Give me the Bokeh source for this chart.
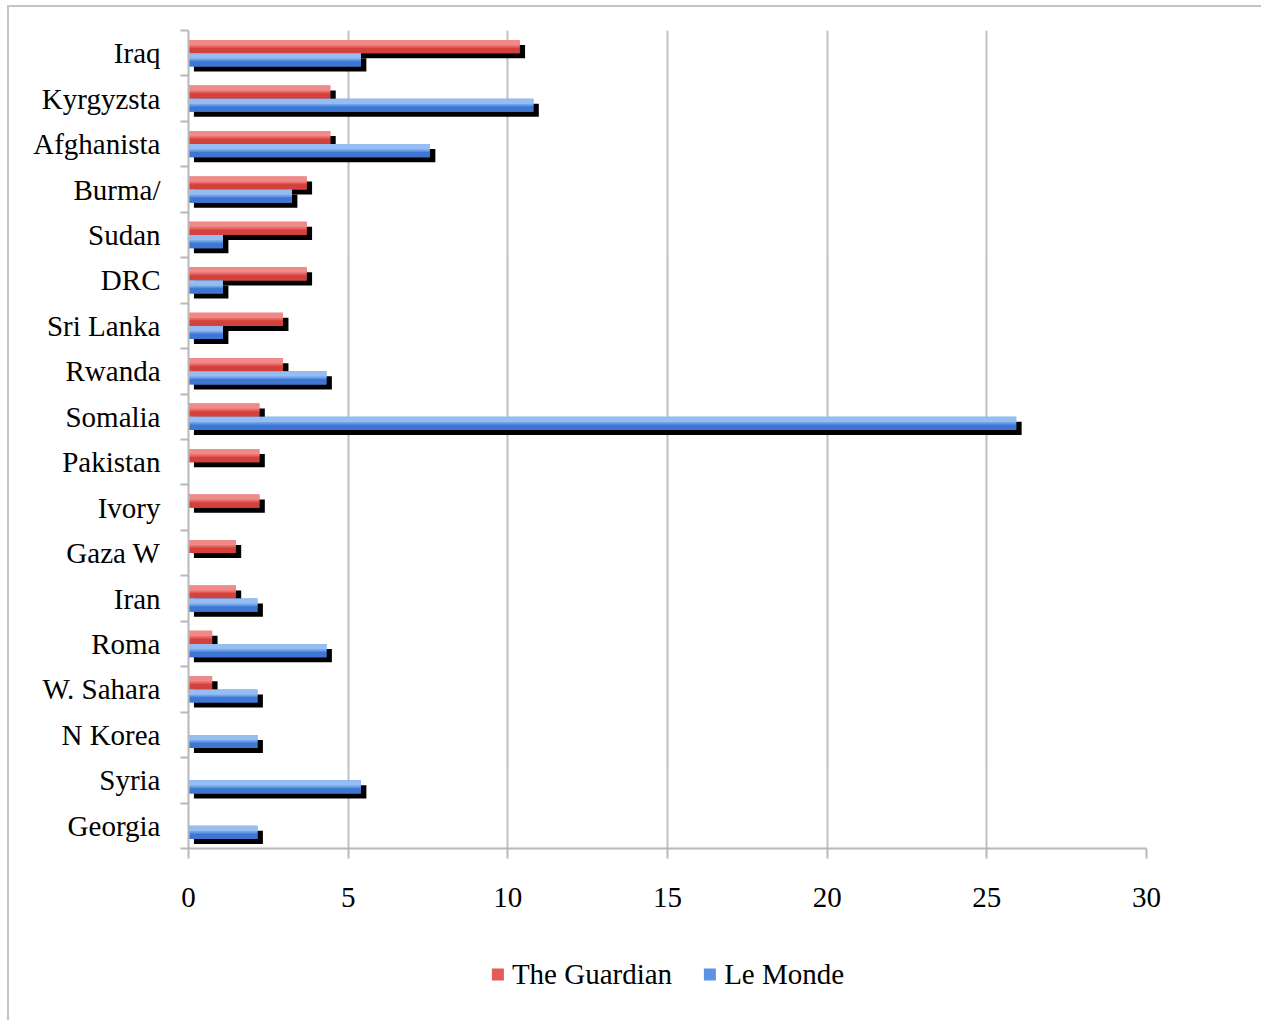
from bokeh.plotting import figure
from bokeh.layouts import column
from bokeh.models import (ColumnDataSource, FixedTicker, Legend, LegendItem, Range1d)
from bokeh.embed import file_html
from bokeh.resources import INLINE

categories = ["Iraq", "Kyrgyzsta", "Afghanista", "Burma/", "Sudan", "DRC", "Sri Lanka",
              "Rwanda", "Somalia", "Pakistan", "Ivory", "Gaza W", "Iran", "Roma",
              "W. Sahara", "N Korea", "Syria", "Georgia"]
guardian = [10.37, 4.44, 4.44, 3.70, 3.70, 3.70, 2.96, 2.96, 2.22, 2.22, 2.22, 1.48,
            1.48, 0.74, 0.74, 0.0, 0.0, 0.0]
lemonde = [5.40, 10.80, 7.56, 3.24, 1.08, 1.08, 1.08, 4.32, 25.92, 0.0, 0.0, 0.0,
           2.16, 4.32, 2.16, 2.16, 5.40, 2.16]
series_names = ["The Guardian", "Le Monde"]
x_ticks = [0, 5, 10, 15, 20, 25, 30]

FONT = "Liberation Serif"
n = len(categories)
centers = [n - 0.5 - i for i in range(n)]
boundaries = list(range(0, n + 1))

BAR_H = 0.29       # bar thickness in band units
OFF = 0.145        # dodge offset
SH_X = 0.17        # shadow offset (x data units)
SH_Y = 0.11        # shadow offset (band units)

RED = ("#f08a88", "#e35a57", "#d13e3a")
BLUE = ("#95bdf2", "#5b92e3", "#3b74d0")

p = figure(frame_width=958, frame_height=818, output_backend="svg", toolbar_location=None,
           x_range=Range1d(0, 30), y_range=Range1d(0, n),
           min_border_left=179, min_border_top=23, min_border_right=115, min_border_bottom=80)
p.outline_line_color = None
p.background_fill_color = "white"
p.border_fill_color = "white"

def bar_sets(values, dy, light, mid, dark):
    ys = [c + dy for c in centers]
    vals = list(values)
    src = ColumnDataSource(dict(y=ys, right=vals,
                                sy=[y - SH_Y for y in ys],
                                sl=[SH_X if v > 0 else 0 for v in vals],
                                sr=[v + SH_X if v > 0 else 0 for v in vals],
                                yt=[y + BAR_H * 0.25 for y in ys],
                                yb=[y - BAR_H * 0.28 for y in ys]))
    p.hbar(y="sy", left="sl", right="sr", height=BAR_H, source=src,
           fill_color="black", line_color=None)
    p.hbar(y="y", left=0, right="right", height=BAR_H, source=src,
           fill_color=mid, line_color=None)
    p.hbar(y="yt", left=0, right="right", height=BAR_H * 0.5, source=src,
           fill_color=light, line_color=None)
    p.hbar(y="yb", left=0, right="right", height=BAR_H * 0.44, source=src,
           fill_color=dark, line_color=None, fill_alpha=0.9)
    p.hbar(y="y", left=0, right="right", height=BAR_H * 0.2, source=src,
           fill_color=mid, line_color=None, fill_alpha=0.6)

bar_sets(guardian, OFF, *RED)
bar_sets(lemonde, -OFF, *BLUE)

# x axis
xa = p.xaxis[0]
xa.ticker = FixedTicker(ticks=x_ticks)
xa.axis_line_color = "#b8b8b8"
xa.axis_line_width = 2
xa.major_tick_line_color = "#b8b8b8"
xa.major_tick_line_width = 2
xa.major_tick_out = 10
xa.major_tick_in = 0
xa.minor_tick_line_color = None
xa.major_label_text_font = FONT
xa.major_label_text_font_size = "29px"
xa.major_label_text_color = "black"
xa.major_label_standoff = 29

# y axis
ya = p.yaxis[0]
ya.ticker = FixedTicker(ticks=centers, minor_ticks=boundaries)
ya.major_label_overrides = {c: categories[i] for i, c in enumerate(centers)}
ya.axis_line_color = "#b8b8b8"
ya.axis_line_width = 2
ya.major_tick_line_color = None
ya.major_tick_out = 0
ya.major_tick_in = 0
ya.minor_tick_line_color = "#b8b8b8"
ya.minor_tick_line_width = 2
ya.minor_tick_out = 8
ya.minor_tick_in = 0
ya.major_label_text_font = FONT
ya.major_label_text_font_size = "29px"
ya.major_label_text_color = "black"
ya.major_label_standoff = 20

p.xgrid.grid_line_color = "#c0c0c0"
p.xgrid.grid_line_width = 2
p.ygrid.grid_line_color = None

# legend strip below the chart (its bars sit far outside the visible ranges; only the legend shows)
p2 = figure(width=1252, height=92, output_backend="svg", toolbar_location=None,
            x_range=Range1d(1000, 1001), y_range=Range1d(1000, 1001),
            min_border_left=179, min_border_right=115, min_border_top=0, min_border_bottom=0)
p2.axis.visible = False
p2.grid.grid_line_color = None
p2.outline_line_color = None
p2.border_fill_color = "white"
lg_g = p2.hbar(y=centers, right=guardian, height=BAR_H, fill_color=RED[1], line_color=None)
lg_l = p2.hbar(y=centers, right=lemonde, height=BAR_H, fill_color=BLUE[1], line_color=None)
legend = Legend(items=[LegendItem(label=series_names[0], renderers=[lg_g], index=0),
                       LegendItem(label=series_names[1], renderers=[lg_l], index=0)],
                orientation="horizontal", location="center",
                label_text_font=FONT, label_text_font_size="29px",
                label_text_color="black",
                glyph_width=15, glyph_height=15, label_standoff=7, spacing=30,
                border_line_color=None, background_fill_alpha=0,
                margin=0, padding=5)
p2.add_layout(legend, "center")

layout = column(p, p2, spacing=0,
                styles={"margin-left": "7px", "margin-top": "5px",
                        "border-top": "2px solid #c4c4c4", "border-left": "2px solid #c4c4c4"})

open("out.html", "w").write(file_html(layout, INLINE))
